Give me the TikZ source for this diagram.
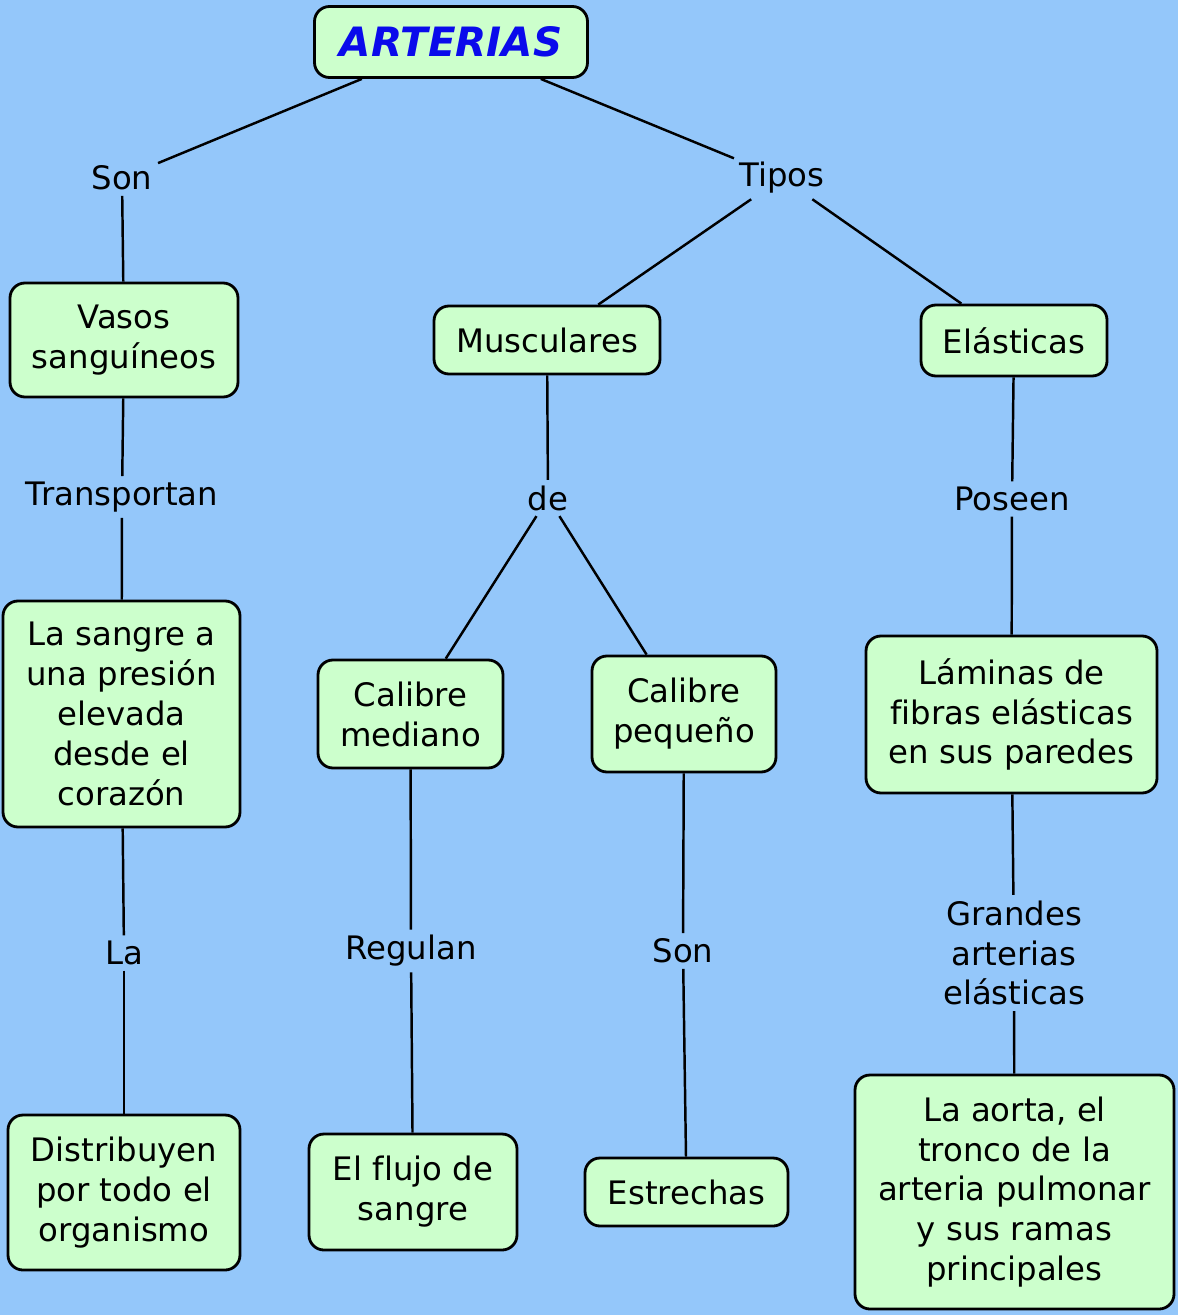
\documentclass[tikz,border=0pt]{standalone}
\usepackage{fontspec}
\setmainfont[Ligatures=NoCommon]{DejaVu Sans}
\usepackage{tikz}
\definecolor{fondo}{RGB}{148,199,250}
\definecolor{caja}{RGB}{204,255,204}
\definecolor{titulo}{RGB}{10,10,235}
\tikzset{
	boxstyle/.style={rectangle,rounded corners=0.3cm,draw=black,line width=1.6pt,fill=caja,align=center,inner sep=0pt},
	linkstyle/.style={rectangle,align=center,inner sep=3pt},
	linestyle/.style={line width=1.4pt}
}
\begin{document}
\begin{tikzpicture}
		\fontsize{18.4}{22.7}\selectfont
		\fill[fondo] (0,0) rectangle (23.56,-26.3);
		\useasboundingbox (0,0) rectangle (23.56,-26.3);
		% conceptos
		\node[boxstyle,minimum width=5.46cm,minimum height=1.42cm] (arterias) at (9.02,-0.84) {\fontsize{23}{26}\selectfont\bfseries\itshape\color{titulo}ARTERIAS};
		\node[boxstyle,minimum width=4.56cm,minimum height=2.28cm] (vasos) at (2.48,-6.80) {Vasos\\sanguíneos};
		\node[boxstyle,minimum width=4.52cm,minimum height=1.36cm] (musculares) at (10.94,-6.80) {Musculares};
		\node[boxstyle,minimum width=3.72cm,minimum height=1.42cm] (elasticas) at (20.28,-6.81) {Elásticas};
		\node[boxstyle,minimum width=4.74cm,minimum height=4.52cm] (sangre) at (2.43,-14.28) {La sangre a\\una presión\\elevada\\desde el\\corazón};
		\node[boxstyle,minimum width=3.70cm,minimum height=2.16cm] (mediano) at (8.21,-14.28) {Calibre\\mediano};
		\node[boxstyle,minimum width=3.68cm,minimum height=2.32cm] (pequeno) at (13.68,-14.28) {Calibre\\pequeño};
		\node[boxstyle,minimum width=5.82cm,minimum height=3.14cm] (laminas) at (20.23,-14.29) {Láminas de\\fibras elásticas\\en sus paredes};
		\node[boxstyle,minimum width=4.64cm,minimum height=3.10cm] (distribuyen) at (2.48,-23.85) {Distribuyen\\por todo el\\organismo};
		\node[boxstyle,minimum width=4.16cm,minimum height=2.32cm] (flujo) at (8.26,-23.84) {El flujo de\\sangre};
		\node[boxstyle,minimum width=4.06cm,minimum height=1.36cm] (estrechas) at (13.73,-23.84) {Estrechas};
		\node[boxstyle,minimum width=6.38cm,minimum height=4.68cm] (aorta) at (20.29,-23.84) {La aorta, el\\tronco de la\\arteria pulmonar\\y sus ramas\\principales};
		% enlaces
		\node[linkstyle] (son1) at (2.44,-3.56) {Son};
		\node[linkstyle] (tipos) at (15.64,-3.56) {Tipos};
		\node[linkstyle] (transportan) at (2.44,-9.94) {Transportan};
		\node[linkstyle] (de) at (10.96,-9.96) {de};
		\node[linkstyle] (poseen) at (20.24,-9.98) {Poseen};
		\node[linkstyle] (la) at (2.48,-19.06) {La};
		\node[linkstyle] (regulan) at (8.22,-19.02) {Regulan};
		\node[linkstyle] (son2) at (13.66,-19.02) {Son};
		\node[linkstyle] (grandes) at (20.28,-19.06) {Grandes\\arterias\\elásticas};
		% lineas
		\draw[linestyle] (arterias)--(son1);
		\draw[linestyle] (arterias)--(tipos);
		\draw[linestyle] (son1)--(vasos);
		\draw[linestyle] (tipos)--(musculares);
		\draw[linestyle] (tipos)--(elasticas);
		\draw[linestyle] (vasos)--(transportan);
		\draw[linestyle] (transportan)--(sangre);
		\draw[linestyle] (sangre)--(la);
		\draw[linestyle] (la)--(distribuyen);
		\draw[linestyle] (musculares)--(de);
		\draw[linestyle] (de)--(mediano);
		\draw[linestyle] (de)--(pequeno);
		\draw[linestyle] (mediano)--(regulan);
		\draw[linestyle] (regulan)--(flujo);
		\draw[linestyle] (pequeno)--(son2);
		\draw[linestyle] (son2)--(estrechas);
		\draw[linestyle] (elasticas)--(poseen);
		\draw[linestyle] (poseen)--(laminas);
		\draw[linestyle] (laminas)--(grandes);
		\draw[linestyle] (grandes)--(aorta);
		\end{tikzpicture}
\end{document}
